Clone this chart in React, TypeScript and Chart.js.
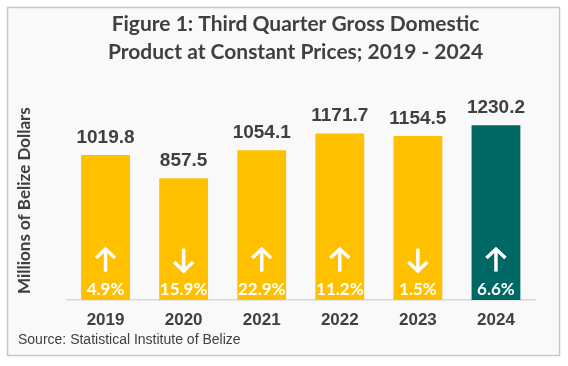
import React, { useEffect, useRef } from "react";
import { Chart, registerables } from "chart.js";

Chart.register(...registerables);

const years = ["2019", "2020", "2021", "2022", "2023", "2024"];
const gdpValues = [1019.8, 857.5, 1054.1, 1171.7, 1154.5, 1230.2];
const growthPct = [4.9, -15.9, 22.9, 11.2, -1.5, 6.6];
const barColors = ["#FFC000", "#FFC000", "#FFC000", "#FFC000", "#FFC000", "#006864"];
const titleLines = [
  "Figure 1: Third Quarter Gross Domestic",
  "Product at Constant Prices; 2019 - 2024",
];
const yAxisTitle = "Millions of Belize Dollars";
const sourceText = "Source: Statistical Institute of Belize";

const TEXT = "#404040";

const framePlugin = {
  id: "frame",
  beforeDraw(chart: any) {
    const ctx = chart.ctx;
    ctx.save();
    ctx.fillStyle = "#ffffff";
    ctx.fillRect(0, 0, chart.width, chart.height);
    ctx.fillStyle = "#f9f9f9";
    ctx.fillRect(7, 7, 553, 349);
    ctx.strokeStyle = "#c8c8c8";
    ctx.lineWidth = 1.5;
    ctx.strokeRect(7.5, 7.5, 552, 348);
    // figure title
    ctx.fillStyle = TEXT;
    ctx.font = "bold 21px Lato";
    ctx.textAlign = "center";
    ctx.textBaseline = "alphabetic";
    titleLines.forEach((t, i) => ctx.fillText(t, 295.5, 31 + i * 27.5));
    // source
    ctx.font = "14px 'Liberation Sans', Arial";
    ctx.textAlign = "left";
    ctx.fillText(sourceText, 18, 344);
    ctx.restore();
  },
};

const labelPlugin = {
  id: "barLabels",
  afterDatasetsDraw(chart: any) {
    const ctx = chart.ctx;
    const meta = chart.getDatasetMeta(0);
    ctx.save();
    meta.data.forEach((bar: any, i: number) => {
      const { x, y, base } = bar.getProps(["x", "y", "base"], true);
      // value above bar
      ctx.fillStyle = TEXT;
      ctx.font = "bold 19px 'Liberation Sans', Arial";
      ctx.textAlign = "center";
      ctx.textBaseline = "alphabetic";
      ctx.fillText(gdpValues[i].toFixed(1), x, y - 12);
      // growth percent
      ctx.fillStyle = "#ffffff";
      ctx.font = "bold 17px Lato";
      ctx.fillText(Math.abs(growthPct[i]).toFixed(1) + "%", x, base - 5.5);
      // arrow
      const up = growthPct[i] >= 0;
      const top = base - 51.5;
      const bottom = base - 28.5;
      const tipY = up ? top : bottom;
      const dir = up ? 1 : -1;
      ctx.strokeStyle = "#ffffff";
      ctx.lineWidth = 3.5;
      ctx.lineCap = "butt";
      ctx.lineJoin = "miter";
      ctx.beginPath();
      ctx.moveTo(x, top + (up ? 1.5 : 0));
      ctx.lineTo(x, bottom - (up ? 0 : 1.5));
      ctx.stroke();
      ctx.beginPath();
      ctx.moveTo(x - 9.5, tipY + dir * 9.5);
      ctx.lineTo(x, tipY + dir * 0.5);
      ctx.lineTo(x + 9.5, tipY + dir * 9.5);
      ctx.stroke();
    });
    ctx.restore();
  },
};

export default function App() {
  const ref = useRef<HTMLCanvasElement>(null);
  useEffect(() => {
    if (!ref.current) return;
    const chart = new Chart(ref.current, {
      type: "bar",
      data: {
        labels: years,
        datasets: [
          {
            data: gdpValues,
            backgroundColor: barColors,
            borderWidth: 0,
            barPercentage: 0.625,
            categoryPercentage: 1,
          },
        ],
      },
      options: {
        animation: false,
        responsive: false,
        devicePixelRatio: 1,
        layout: { padding: { top: 101, left: 8, right: 33, bottom: 25.5 } },
        plugins: {
          legend: { display: false },
          title: { display: false },
          tooltip: { enabled: false },
        },
        scales: {
          x: {
            grid: { display: false, drawTicks: false },
            border: { display: true, color: "#d9d9d9", width: 1.5 },
            ticks: {
              color: TEXT,
              padding: 10,
              font: { family: "'Liberation Sans', Arial", size: 17, weight: "bold" },
            },
          },
          y: {
            min: 0,
            max: 1400,
            grid: { display: false, drawTicks: false },
            border: { display: false },
            ticks: { display: false },
            title: {
              display: true,
              text: yAxisTitle,
              color: TEXT,
              padding: { top: 6.8, bottom: 31.3 },
              font: { family: "Lato", size: 17, weight: "bold" },
            },
          },
        },
      },
      plugins: [framePlugin, labelPlugin],
    });
    return () => chart.destroy();
  }, []);
  return (
    <div style={{ position: "fixed", left: 0, top: 0, width: 568, height: 366, background: "#fff" }}>
      <canvas ref={ref} width={568} height={366} style={{ display: "block" }} />
    </div>
  );
}
